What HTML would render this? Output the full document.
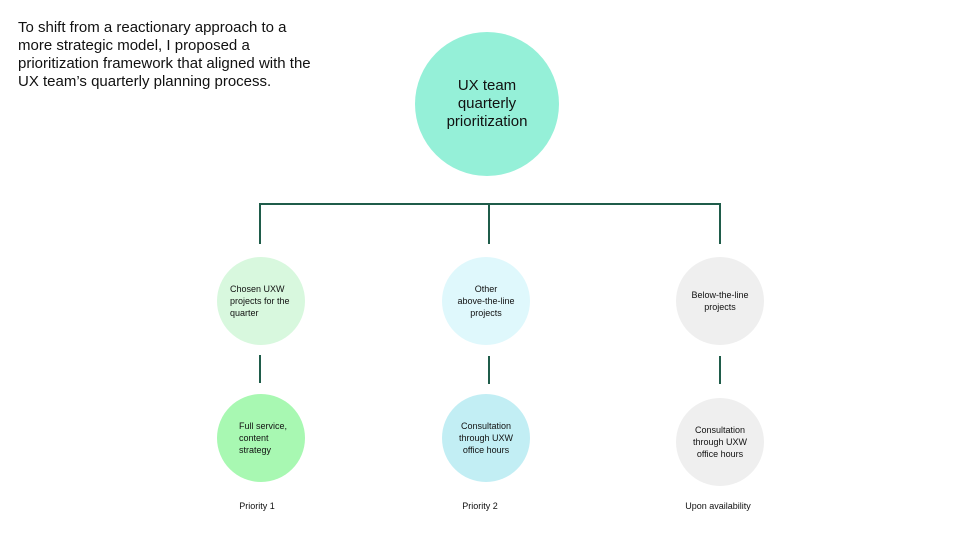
<!DOCTYPE html>
<html><head><style>
body{margin:0;width:960px;height:540px;background:#fff;position:relative;overflow:hidden;font-family:"Liberation Sans",Arial,sans-serif;color:#111}
.t{position:absolute;left:18px;top:19px;font-size:15px;line-height:18px}
.c{position:absolute;border-radius:50%;display:flex;align-items:center;justify-content:center;text-align:center;font-size:9px;line-height:12px}
.l{position:absolute;background:#1f5c4a}
.p{position:absolute;font-size:9px;width:120px;text-align:center;top:501px}
</style></head><body>
<div class="t">To shift from a reactionary approach to a<br>more strategic model, I proposed a<br>prioritization framework that aligned with the<br>UX team’s quarterly planning process.</div>
<div class="c" style="left:415px;top:32px;width:144px;height:144px;background:#95f0d8;font-size:15px;line-height:18px">UX team<br>quarterly<br>prioritization</div>
<div class="l" style="left:259px;top:203px;width:462px;height:2px"></div>
<div class="l" style="left:259px;top:203px;width:2px;height:41px"></div>
<div class="l" style="left:488px;top:203px;width:2px;height:41px"></div>
<div class="l" style="left:719px;top:203px;width:2px;height:41px"></div>
<div class="c" style="left:217px;top:257px;width:88px;height:88px;background:#d8f8de;text-align:left;justify-content:flex-start"><span style="padding-left:13px">Chosen UXW<br>projects for the<br>quarter</span></div>
<div class="c" style="left:442px;top:257px;width:88px;height:88px;background:#dff8fc">Other<br>above-the-line<br>projects</div>
<div class="c" style="left:676px;top:257px;width:88px;height:88px;background:#efefef">Below-the-line<br>projects</div>
<div class="l" style="left:259px;top:355px;width:2px;height:28px"></div>
<div class="l" style="left:488px;top:356px;width:2px;height:28px"></div>
<div class="l" style="left:719px;top:356px;width:2px;height:28px"></div>
<div class="c" style="left:217px;top:394px;width:88px;height:88px;background:#a8f8b2;text-align:left;justify-content:flex-start"><span style="padding-left:22px">Full service,<br>content<br>strategy</span></div>
<div class="c" style="left:442px;top:394px;width:88px;height:88px;background:#c2eef4">Consultation<br>through UXW<br>office hours</div>
<div class="c" style="left:676px;top:398px;width:88px;height:88px;background:#efefef">Consultation<br>through UXW<br>office hours</div>
<div class="p" style="left:197px">Priority 1</div>
<div class="p" style="left:420px">Priority 2</div>
<div class="p" style="left:658px">Upon availability</div>
</body></html>
